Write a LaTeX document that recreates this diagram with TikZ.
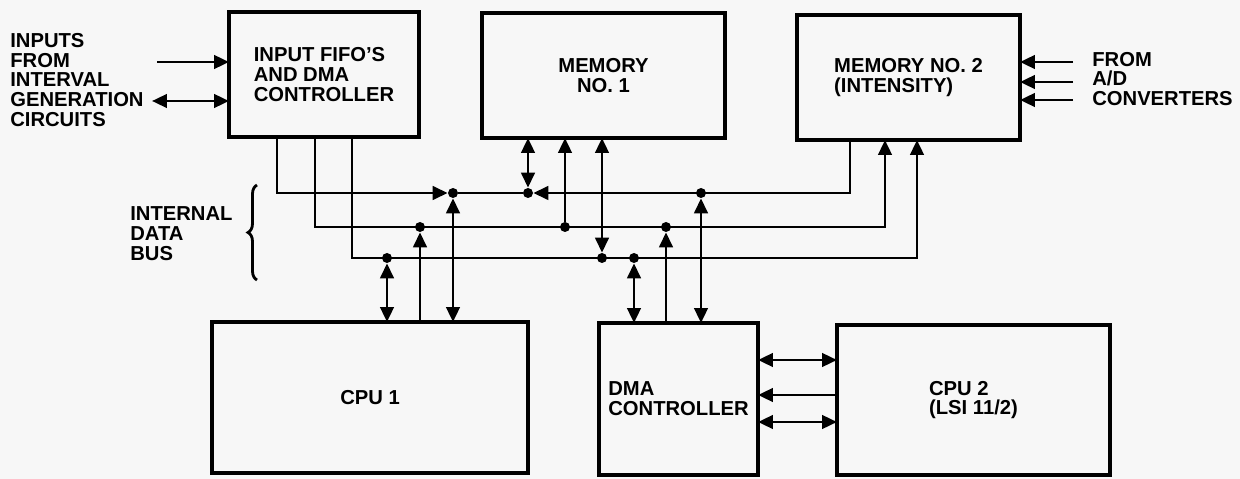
\documentclass[tikz,border=0pt]{standalone}
\usepackage{fontspec}
\setmainfont{Liberation Sans}
\usetikzlibrary{arrows.meta, decorations.pathreplacing}

\begin{document}
\begin{tikzpicture}[
    x=0.02cm, y=-0.02cm,
    >={Triangle[length=3mm,width=2.7mm]},
    unit/.style={
        rectangle,
        draw=black,
        line width=2.2pt,
        inner sep=0pt,
        outer sep=0pt,
        align=left,
        font=\bfseries\fontsize{11.5}{11.3}\selectfont
    },
    lbl/.style={
        inner sep=0pt,
        align=left,
        font=\bfseries\fontsize{11.5}{11.3}\selectfont
    },
    dot/.style={
        circle,
        fill=black,
        inner sep=0pt,
        minimum size=2mm
    },
    bus/.style={
        draw,
        line width=1.6pt
    }
]

% Page
\fill[black!3] (0,0) rectangle (1240,479);
\useasboundingbox (0,0) rectangle (1240,479);

% Units
\node [unit, minimum width=3.8cm, minimum height=2.5cm] (fifo) at (324,74.5) {INPUT FIFO'S\\AND DMA\\CONTROLLER};
\node [unit, minimum width=4.86cm, minimum height=2.5cm, align=center] (mem1) at (603.5,75.5) {MEMORY\\NO. 1};
\node [unit, minimum width=4.46cm, minimum height=2.5cm] (mem2) at (908.5,77.5) {MEMORY NO. 2\\(INTENSITY)};
\node [unit, minimum width=6.32cm, minimum height=3.02cm] (cpu1) at (370,397.5) {CPU 1};
\node [unit, minimum width=3.18cm, minimum height=3.04cm] (dma) at (678.5,399) {DMA\\CONTROLLER};
\node [unit, minimum width=5.46cm, minimum height=3.0cm] (cpu2) at (973.5,400) {CPU 2\\(LSI 11/2)};

% Labels
\node [lbl, anchor=west] (src) at (10,80) {INPUTS\\FROM\\INTERVAL\\GENERATION\\CIRCUITS};
\node [lbl, anchor=west] (adc) at (1092,79) {FROM\\A/D\\CONVERTERS};
\node [lbl, anchor=west] (busname) at (130,234) {INTERNAL\\DATA\\BUS};

% Bus corners and taps
\coordinate (a1) at (277,193);
\coordinate (a2) at (850,193);
\coordinate (b1) at (315,227);
\coordinate (b2) at (885,227);
\coordinate (c1) at (352,258);
\coordinate (c2) at (917,258);
\node [dot] (jA1) at (453,193) {};
\node [dot] (jA2) at (528,193) {};
\node [dot] (jA3) at (701,193) {};
\node [dot] (jB1) at (420,227) {};
\node [dot] (jB2) at (565,227) {};
\node [dot] (jB3) at (666,227) {};
\node [dot] (jC1) at (387,258) {};
\node [dot] (jC2) at (602,258) {};
\node [dot] (jC3) at (634,258) {};

% Free ends
\coordinate (in1) at (157,62);
\coordinate (in2) at (152,101);
\coordinate (ad1) at (1073,62);
\coordinate (ad2) at (1073,82);
\coordinate (ad3) at (1073,100);
\coordinate (h1) at (798,360);
\coordinate (h2) at (798,395);
\coordinate (h3) at (798,422);
\coordinate (brB) at (257,280);
\coordinate (brT) at (257,185);

% Internal data bus
\path [bus, ->] (fifo.south -| a1) |- (jA1);
\path [bus] (jA1) -- (jA2);
\path [bus, ->] (mem2.south -| a2) |- (jA2);
\path [bus, ->] (fifo.south -| b1) |- (b2) -- (mem2.south -| b2);
\path [bus, ->] (fifo.south -| c1) |- (c2) -- (mem2.south -| c2);

% Memory No. 1 taps
\path [bus, <->] (mem1.south -| jA2) -- (jA2);
\path [bus, ->] (jB2) -- (mem1.south -| jB2);
\path [bus, <->] (mem1.south -| jC2) -- (jC2);

% CPU 1 taps
\path [bus, <->] (cpu1.north -| jC1) -- (jC1);
\path [bus, ->] (cpu1.north -| jB1) -- (jB1);
\path [bus, <->] (cpu1.north -| jA1) -- (jA1);

% DMA controller taps
\path [bus, <->] (dma.north -| jC3) -- (jC3);
\path [bus, ->] (dma.north -| jB3) -- (jB3);
\path [bus, <->] (dma.north -| jA3) -- (jA3);

% DMA controller to CPU 2
\path [bus, <->] (dma.east |- h1) -- (cpu2.west |- h1);
\path [bus, <-] (dma.east |- h2) -- (cpu2.west |- h2);
\path [bus, <->] (dma.east |- h3) -- (cpu2.west |- h3);

% Outside inputs
\path [bus, ->] (in1) -- (fifo.west |- in1);
\path [bus, <->] (in2) -- (fifo.west |- in2);
\path [bus, ->] (ad1) -- (mem2.east |- ad1);
\path [bus, ->] (ad2) -- (mem2.east |- ad2);
\path [bus, ->] (ad3) -- (mem2.east |- ad3);

% Brace
\draw [line width=1.6pt, decorate, decoration={brace, amplitude=0.18cm}] (brB) -- (brT);

\end{tikzpicture}
\end{document}
